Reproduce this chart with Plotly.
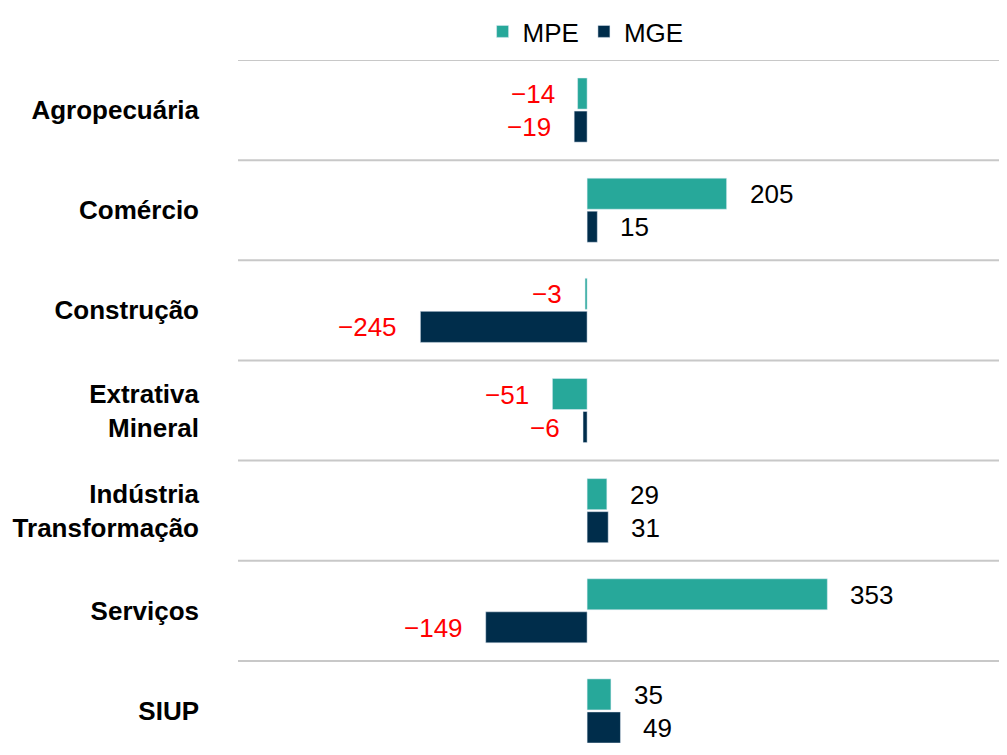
import plotly.graph_objects as go

setores = ["Agropecuária", "Comércio", "Construção", "Extrativa<br>Mineral",
           "Indústria<br>Transformação", "Serviços", "SIUP"]
mpe = [-14, 205, -3, -51, 29, 353, 35]
mge = [-19, 15, -245, -6, 31, -149, 49]

verde = "#27A89A"
azul = "#002D4B"
pos = list(range(len(setores)))

fig = go.Figure()
fig.add_trace(go.Bar(y=pos, x=mpe, orientation="h", name="MPE",
                     marker=dict(color=verde)))
fig.add_trace(go.Bar(y=pos, x=mge, orientation="h", name="MGE",
                     marker=dict(color=azul)))

# rótulos de valor (fora da barra, negativos em vermelho)
for serie, dy in [(mpe, 16), (mge, -17)]:
    for i, v in enumerate(serie):
        fig.add_annotation(
            x=v, y=i, text=str(v).replace("-", "\u2212"), showarrow=False,
            xanchor="left" if v >= 0 else "right",
            xshift=21 if v >= 0 else -21, yshift=dy,
            font=dict(size=26, color="black" if v >= 0 else "#FF0000"))

# linhas separadoras entre setores
for i in range(len(setores)):
    fig.add_shape(type="line", xref="paper", x0=0, x1=1, y0=i - 0.5, y1=i - 0.5,
                  line=dict(color="#C8C8C8", width=2))

fig.update_layout(
    width=999, height=735,
    margin=dict(l=230, r=0, t=52, b=0),
    plot_bgcolor="white", paper_bgcolor="white",
    font=dict(family="Liberation Sans, Arial, sans-serif", size=26, color="black"),
    barmode="group", bargap=0.34, bargroupgap=0.06,
    legend=dict(orientation="h", x=0.452, xanchor="center",
                yref="container", y=1, yanchor="top",
                font=dict(size=26), itemwidth=30, traceorder="normal"),
    showlegend=True,
)
fig.update_xaxes(range=[-513, 617], showgrid=False, zeroline=False,
                 showticklabels=False)
fig.update_yaxes(range=[6.32, -0.5], tickvals=pos,
                 ticktext=["<b>" + s.replace("<br>", "</b><br><b>") + "</b>" for s in setores],
                 showgrid=False, zeroline=False, ticks="", ticklabelstandoff=38,
                 tickfont=dict(size=26))

fig.write_html("out.html")
